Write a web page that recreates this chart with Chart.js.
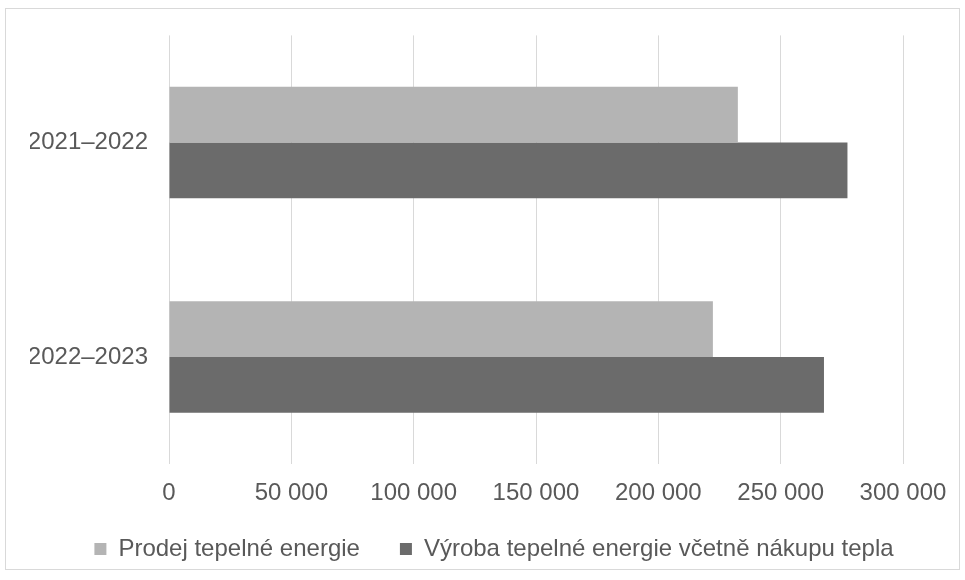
<!DOCTYPE html>
<html lang="cs">
  <head>
    <meta charset="UTF-8" />
    <title>Teplo</title>
    <style>
      body { margin: 0; background: #fff; }
      #wrap { position: relative; width: 965px; height: 580px; }
      #frame {
        position: absolute; left: 5px; top: 8px; width: 953px; height: 560px;
        border: 1px solid #d9d9d9; pointer-events: none;
      }
    </style>
  </head>
  <body>
    <div id="wrap">
      <canvas id="myChart" width="965" height="580"></canvas>
      <div id="frame"></div>
    </div>
  </body>
  <script src="https://cdn.jsdelivr.net/npm/chart.js"></script>
  <script>
    // categories (seasons) and the two series
    let periods = ["2021–2022", "2022–2023"];
    let prodej = [232500, 222300];
    let vyroba = [277300, 267700];
    let xTicks = [0, 50000, 100000, 150000, 200000, 250000, 300000];

    function fmt(v) {
      return String(v).replace(/\B(?=(\d{3})+(?!\d))/g, " ");
    }

    // legend: keep the wide gap between items but take less height,
    // so it sits closer to the x labels
    const legendShift = 26;
    const tightLegend = {
      id: "tightLegend",
      beforeLayout(chart) {
        const lg = chart.legend;
        if (!lg || lg._tight) return;
        const fit = lg.fit;
        lg.fit = function () {
          fit.call(this);
          this.height -= legendShift;
        };
        const draw = lg.draw;
        lg.draw = function () {
          this.top -= legendShift;
          draw.apply(this, arguments);
          this.top += legendShift;
        };
        lg._tight = true;
      },
    };

    Chart.defaults.font.family = "'Liberation Sans', Arial, sans-serif";
    Chart.defaults.font.size = 24;
    Chart.defaults.color = "#595959";

    var ctx = document.getElementById("myChart").getContext("2d");
    var chart = new Chart(ctx, {
      type: "bar",
      data: {
        labels: periods,
        datasets: [
          {
            label: "Prodej tepelné energie",
            backgroundColor: "#b4b4b4",
            data: prodej,
          },
          {
            label: "Výroba tepelné energie včetně nákupu tepla",
            backgroundColor: "#6b6b6b",
            data: vyroba,
          },
        ],
      },
      options: {
        indexAxis: "y",
        responsive: false,
        animation: false,
        layout: { padding: { top: 33, right: 7, left: 30, bottom: 9 } },
        datasets: {
          bar: { barPercentage: 1, categoryPercentage: 0.52 },
        },
        scales: {
          x: {
            min: 0,
            max: 300000,
            afterBuildTicks: (axis) => {
              axis.ticks = xTicks.map((v) => ({ value: v }));
            },
            grid: { color: "#d9d9d9", drawTicks: false },
            border: { display: false },
            ticks: { padding: 15, callback: (v) => fmt(v) },
          },
          y: {
            grid: { display: false, drawTicks: false },
            border: { display: false },
            ticks: { padding: 21 },
            afterFit: (axis) => {
              axis.width = 139;
            },
          },
          // empty spacer on the right so the plot ends at 300 000 like the original
          yRight: {
            position: "right",
            type: "linear",
            min: 0,
            max: 1,
            grid: { display: false, drawTicks: false },
            border: { display: false },
            ticks: { display: false },
            afterFit: (axis) => {
              axis.width = 55;
            },
          },
        },
        plugins: {
          legend: {
            position: "bottom",
            labels: { boxWidth: 12, boxHeight: 12, padding: 40 },
          },
          tooltip: { enabled: false },
        },
      },
      plugins: [tightLegend],
    });
  </script>
</html>
